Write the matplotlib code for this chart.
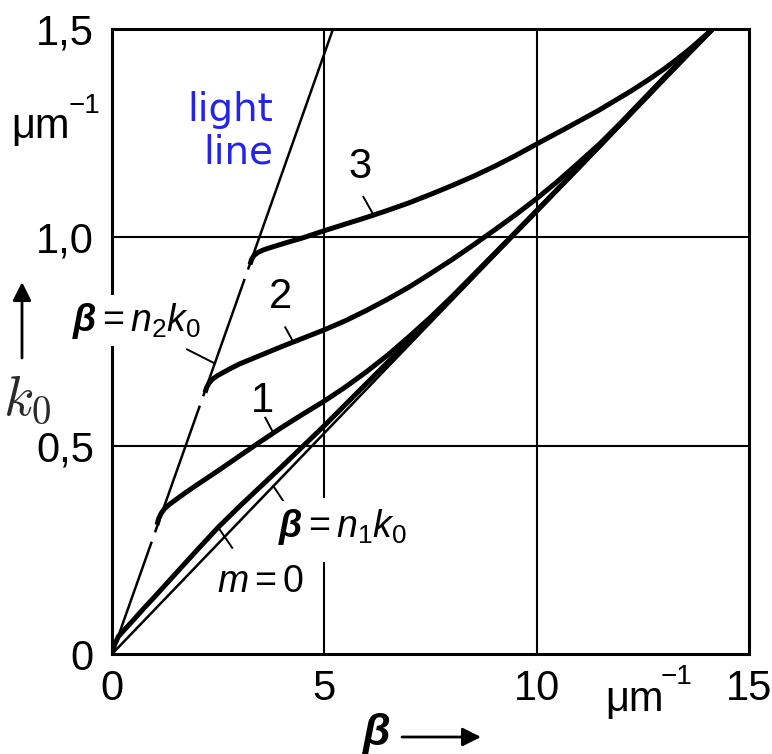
import numpy as np
import matplotlib
matplotlib.use("Agg")
import matplotlib.pyplot as plt

plt.rcParams['font.family'] = ['Liberation Sans', 'DejaVu Sans']
plt.rcParams['mathtext.fontset'] = 'custom'
plt.rcParams['mathtext.rm'] = 'Liberation Sans'
plt.rcParams['mathtext.it'] = 'Liberation Sans:italic'
plt.rcParams['mathtext.bf'] = 'Liberation Sans:italic:bold'

# refractive indices of the two bounding lines (beta = n k0)
n1 = 9.43
n2 = 3.47
k0_max = 1.5

# mode curves, beta in um^-1, k0 in um^-1
mode0_beta = [0, 0.06, 0.15, 0.3, 0.5, 0.7, 1.0, 1.5, 2.0, 2.5, 3.0, 3.5,
              4.0, 4.5, 5.0, 6.0, 7.0, 8.0, 9.0, 10.0, 11.0, 12.0, 13.0, 14.14]
mode0_k0 = [0, 0.022, 0.042, 0.059, 0.081, 0.104, 0.137, 0.193, 0.249, 0.304,
            0.354, 0.402, 0.45, 0.499, 0.548, 0.65, 0.752, 0.855, 0.959, 1.063,
            1.168, 1.274, 1.38, 1.5]

mode1_beta = [1.06, 1.1, 1.16, 1.24, 1.35, 1.5, 1.7, 2.0, 2.5, 3.0, 3.5, 4.0,
              4.5, 5.0, 5.5, 6.0, 6.5, 7.0, 7.5, 8.0, 9.0, 10.0, 11.0, 12.0,
              13.0, 14.14]
mode1_k0 = [0.31, 0.325, 0.338, 0.349, 0.359, 0.37, 0.385, 0.406, 0.44, 0.475,
            0.51, 0.544, 0.576, 0.607, 0.641, 0.678, 0.718, 0.762, 0.808,
            0.857, 0.96, 1.064, 1.169, 1.275, 1.381, 1.5]

mode2_beta = [2.19, 2.23, 2.29, 2.37, 2.5, 2.75, 3.0, 3.5, 4.0, 4.5, 5.0, 5.5,
              6.0, 6.5, 7.0, 7.5, 8.0, 8.5, 9.0, 9.5, 10.0, 10.5, 11.0, 11.5,
              12.0, 13.0, 14.14]
mode2_k0 = [0.627, 0.64, 0.651, 0.66, 0.669, 0.683, 0.696, 0.717, 0.738,
            0.758, 0.778, 0.8, 0.825, 0.852, 0.881, 0.913, 0.946, 0.981,
            1.017, 1.054, 1.093, 1.135, 1.18, 1.226, 1.277, 1.383, 1.5]

mode3_beta = [3.25, 3.29, 3.35, 3.44, 3.57, 3.75, 4.1, 4.5, 5.0, 5.5, 6.0,
              6.5, 7.0, 7.5, 8.0, 8.5, 9.0, 9.5, 10.0, 10.64, 11.43, 12.22,
              12.6, 13.0, 13.3, 13.63, 13.9, 14.14]
mode3_k0 = [0.935, 0.948, 0.957, 0.964, 0.97, 0.976, 0.987, 0.999, 1.016,
            1.032, 1.048, 1.065, 1.083, 1.103, 1.124, 1.146, 1.17, 1.196,
            1.224, 1.259, 1.303, 1.351, 1.376, 1.404, 1.427, 1.454, 1.478,
            1.5]

modes = [(mode0_beta, mode0_k0), (mode1_beta, mode1_k0),
         (mode2_beta, mode2_k0), (mode3_beta, mode3_k0)]

x_ticks = [0, 5, 10, 15]
x_ticklabels = ['0', '5', '10', '15']
y_ticks = [0, 0.5, 1.0, 1.5]
y_ticklabels = ['0', '0,5', '1,0', '1,5']

W, H = 772, 754
fig = plt.figure(figsize=(W / 100, H / 100), dpi=100)
ax = fig.add_axes([112 / W, 100 / H, 637 / W, 625 / H])
ax.set_xlim(0, 15)
ax.set_ylim(0, k0_max)

for s in ax.spines.values():
    s.set_linewidth(2.2)
ax.set_xticks(x_ticks)
ax.set_xticklabels(x_ticklabels)
ax.set_yticks(y_ticks)
ax.set_yticklabels(y_ticklabels)
ax.tick_params(length=0, labelsize=30)
ax.tick_params(axis='x', pad=11)
ax.tick_params(axis='y', pad=13)

# grid, the beta = 5 line is left open behind the n1 label
grid_kw = dict(color='k', lw=1.5, zorder=1)
ax.axhline(0.5, **grid_kw)
ax.axhline(1.0, **grid_kw)
ax.axvline(10, **grid_kw)
ax.axvline(5, ymin=0, ymax=0.146, **grid_kw)
ax.axvline(5, ymin=0.252, ymax=1, **grid_kw)

# light line, broken just below each cutoff point
beta_ll = np.linspace(0, k0_max * n2, 800)
k_ll = beta_ll / n2
for bc in [mode1_beta[0], mode2_beta[0], mode3_beta[0]]:
    k_ll[(beta_ll > bc - 0.13) & (beta_ll < bc - 0.04)] = np.nan
ax.plot(beta_ll, k_ll, color='k', lw=1.8)

# core line beta = n1 k0
beta_core = np.array([0, k0_max * n1])
ax.plot(beta_core, beta_core / n1, color='k', lw=1.8)

for b, k in modes:
    ax.plot(b, k, color='k', lw=3.6, solid_capstyle='butt',
            solid_joinstyle='round')

# curve labels with short leader lines
lab_kw = dict(fontsize=30, ha='center', va='center')
ax.text(5.85, 1.168, '3', **lab_kw)
ax.text(3.96, 0.856, '2', **lab_kw)
ax.text(3.54, 0.608, '1', **lab_kw)


def leader(x0, y0, xb, curve_b, curve_k):
    yb = np.interp(xb, curve_b, curve_k)
    ax.plot([x0, xb], [y0, yb], color='k', lw=1.4)


leader(5.92, 1.097, 6.16, mode3_beta, mode3_k0)
leader(4.08, 0.784, 4.27, mode2_beta, mode2_k0)
leader(3.61, 0.567, 3.8, mode1_beta, mode1_k0)
leader(2.83, 0.255, 2.5, mode0_beta, mode0_k0)
leader(4.04, 0.366, 3.8, beta_core, beta_core / n1)
leader(1.77, 0.731, 2.42, [0, k0_max * n2], [0, k0_max])

box = dict(fc='white', ec='none', pad=4)
ax.text(0.59, 0.80, r'$\mathbf{\beta}=n_2k_0$', fontsize=27,
        ha='center', va='center', bbox=box, zorder=4)
ax.text(5.42, 0.305, r'$\mathbf{\beta}=n_1k_0$', fontsize=27,
        ha='center', va='center', bbox=box, zorder=4)
ax.text(3.49, 0.173, r'$m=0$', fontsize=27, ha='center', va='center')

ax.text(3.8, 1.255, 'light\nline', family='DejaVu Sans', fontsize=28,
        color='#2424e8', ha='right', va='center', multialignment='right',
        linespacing=1.15)

# units
fig.text(40 / W, 1 - 127 / H, 'μm', fontsize=30, ha='center', va='center')
fig.text(84 / W, 1 - 106 / H, '−1', fontsize=20, ha='center', va='center')
fig.text(635 / W, 1 - 700 / H, 'μm', fontsize=30, ha='center', va='center')
fig.text(677 / W, 1 - 677 / H, '−1', fontsize=20, ha='center', va='center')

# axis names with arrows
fig.text(27 / W, 1 - 400 / H, r'$k_0$', math_fontfamily='cm', fontsize=40,
         color='#2a2a2a', ha='center', va='center')
arrow = dict(arrowstyle='-|>', color='k', lw=2, mutation_scale=28,
             shrinkA=0, shrinkB=0)
ax.annotate('', xy=(22 / W, 1 - 282 / H), xycoords='figure fraction',
            xytext=(22 / W, 1 - 358 / H), textcoords='figure fraction',
            arrowprops=arrow)
fig.text(377 / W, 1 - 733 / H, 'β', fontsize=32, fontweight='bold',
         style='italic', ha='center', va='center')
ax.annotate('', xy=(481 / W, 1 - 737 / H), xycoords='figure fraction',
            xytext=(402 / W, 1 - 737 / H), textcoords='figure fraction',
            arrowprops=arrow)

fig.savefig('out.png', dpi=100)
